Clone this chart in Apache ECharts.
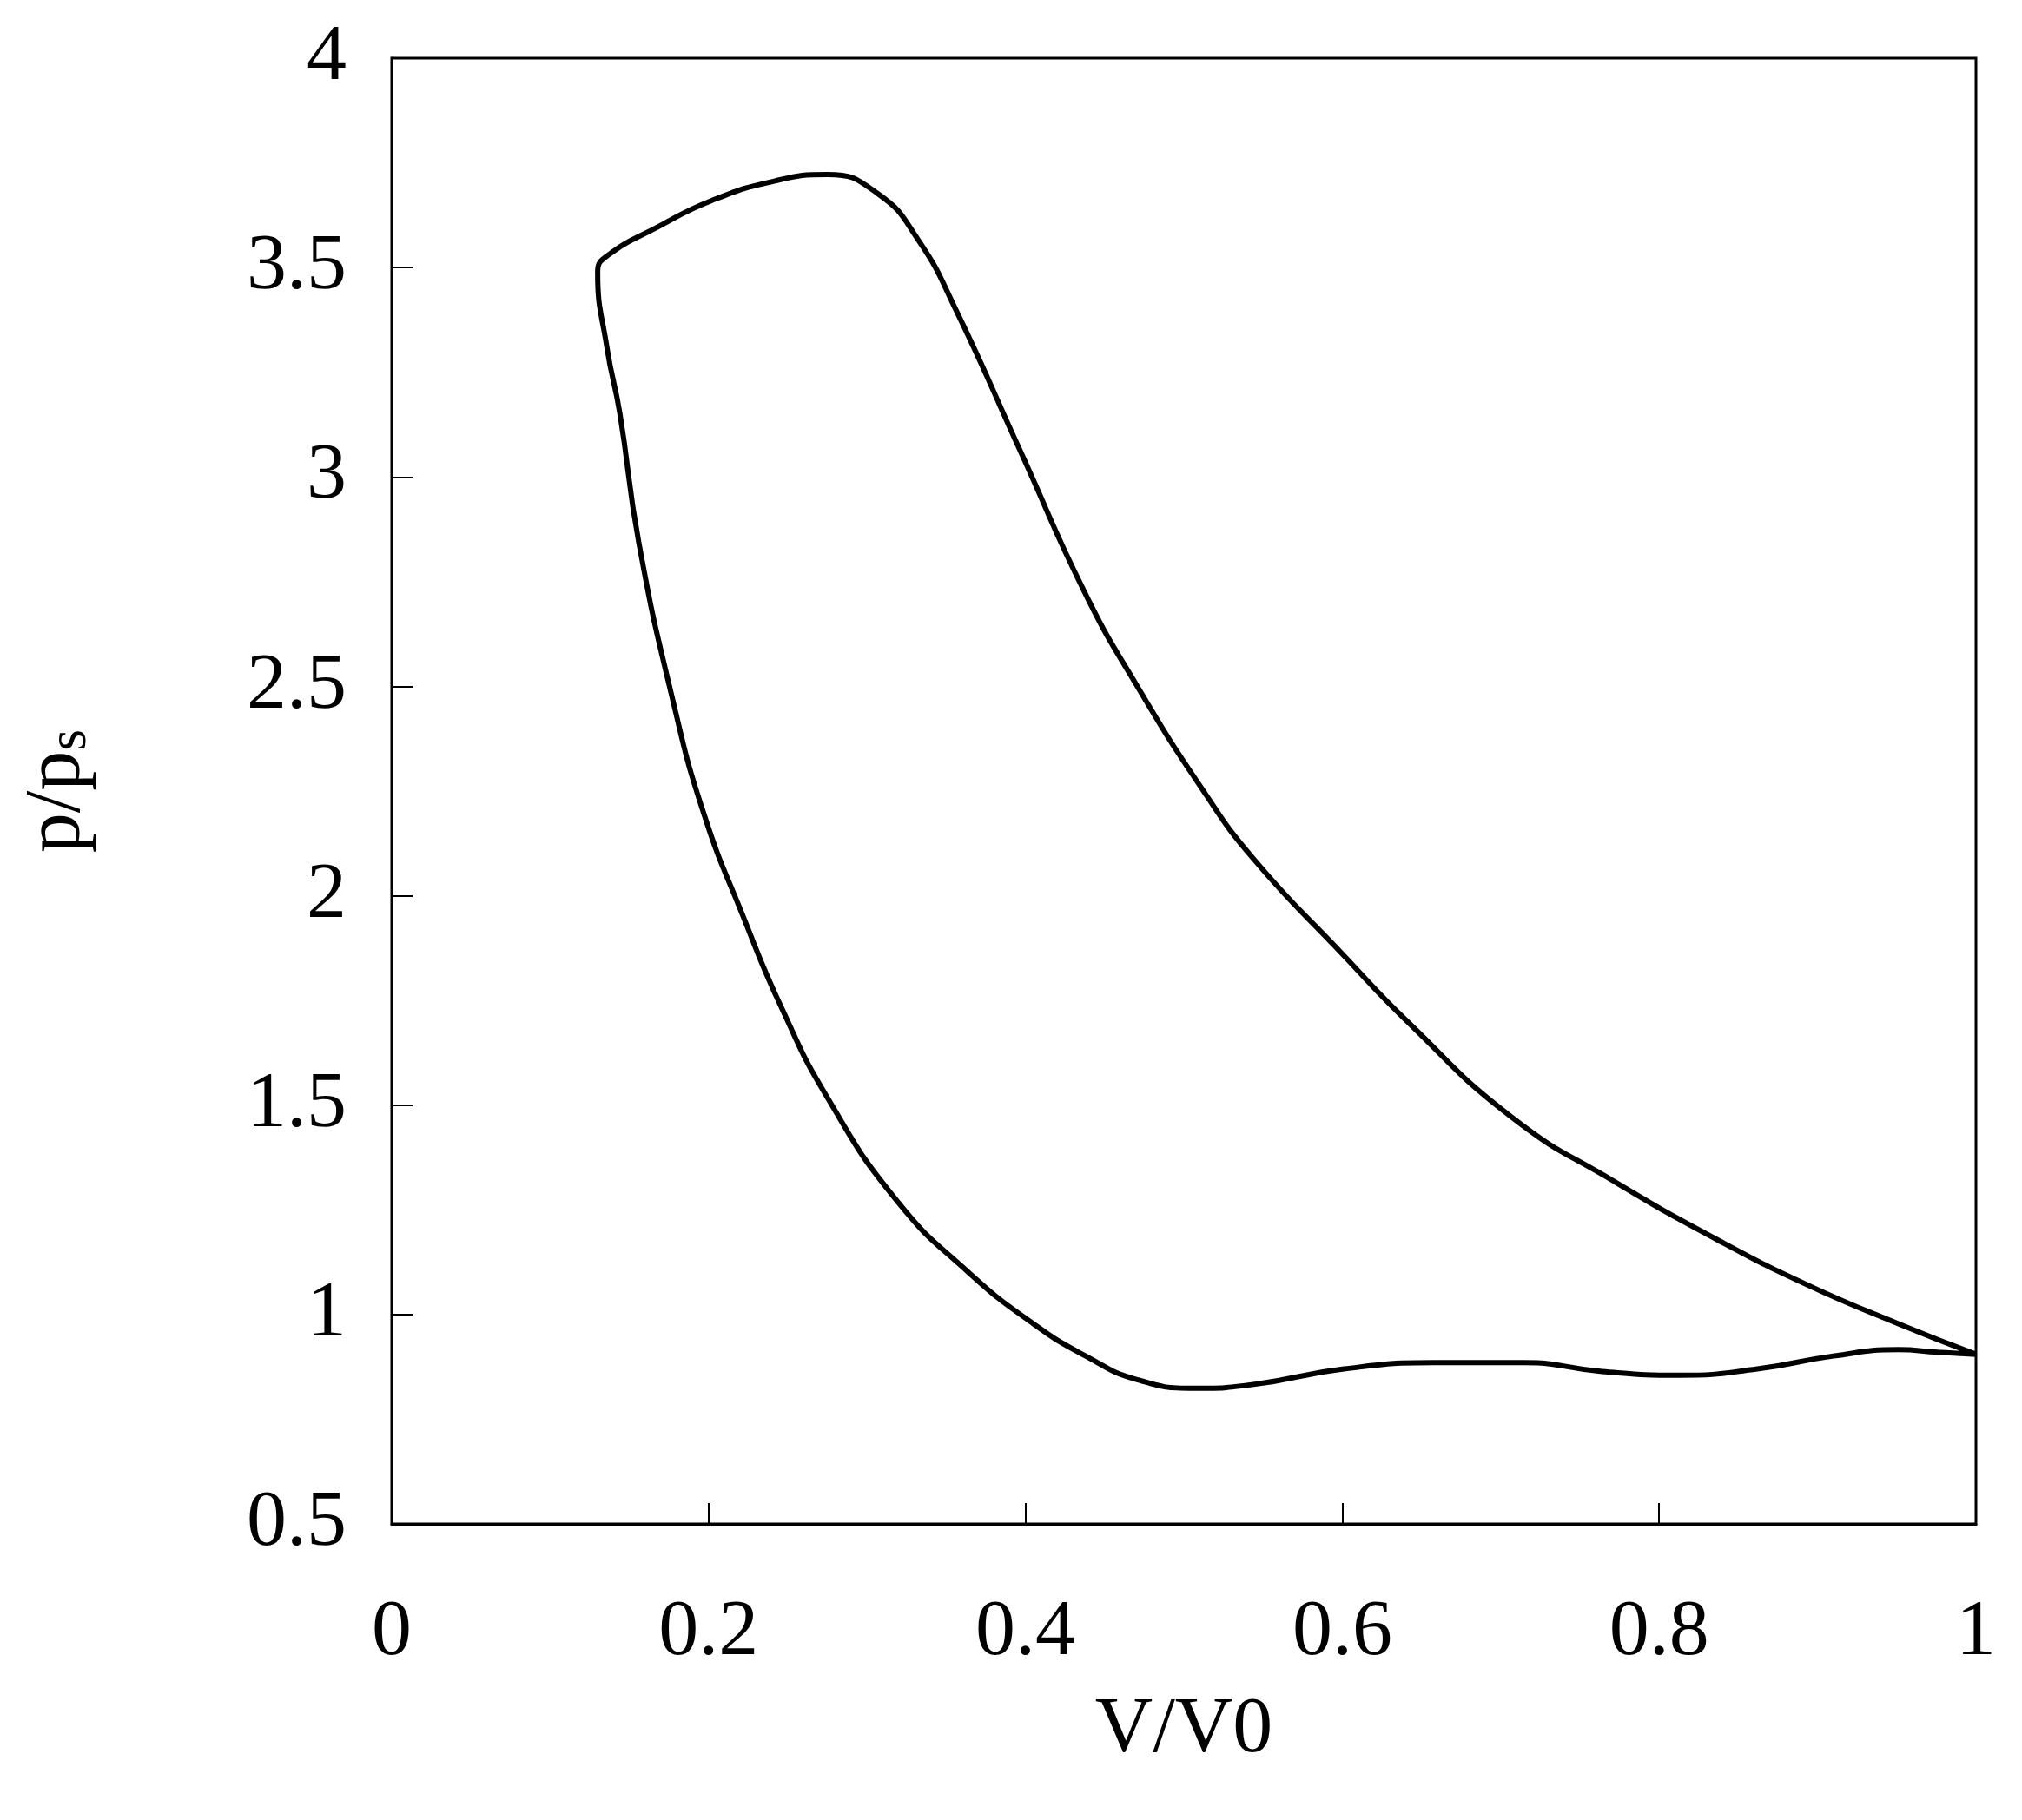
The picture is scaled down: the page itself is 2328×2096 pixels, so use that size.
<!DOCTYPE html>
<html><head><meta charset="utf-8">
<script src="https://cdn.jsdelivr.net/npm/echarts@6/dist/echarts.min.js"></script>
<style>html,body{margin:0;padding:0;background:#fff}#c{width:2328px;height:2096px}</style>
</head><body><div id="c"></div>
<script>
const volume = [1.0,0.951,0.894,0.837,0.772,0.707,0.641,0.601,0.544,0.511,0.470,0.438,0.397,0.356,0.332,0.307,0.275,0.242,0.202,0.169,0.136,0.130,0.136,0.144,0.156,0.177,0.197,0.222,0.246,0.275,0.319,0.364,0.405,0.438,0.470,0.507,0.544,0.601,0.658,0.715,0.764,0.813,0.862,0.910,0.951,0.976,1.0];
const pressure = [0.905,0.978,1.07,1.178,1.317,1.471,1.70,1.857,2.088,2.258,2.504,2.72,3.06,3.40,3.568,3.676,3.722,3.707,3.66,3.599,3.528,3.49,3.306,3.152,2.843,2.474,2.196,1.949,1.733,1.518,1.271,1.101,0.978,0.901,0.845,0.824,0.833,0.870,0.885,0.885,0.864,0.855,0.870,0.901,0.916,0.910,0.905];
const xTicks = [0,0.2,0.4,0.6,0.8,1];
const yTicks = [0.5,1,1.5,2,2.5,3,3.5,4];
const font = '"Liberation Serif", "Times New Roman", Times, serif';
const chart = echarts.init(document.getElementById('c'));
chart.setOption({
  animation:false,
  grid:{left:451,right:53,top:67,bottom:341,show:true,borderColor:'#000',borderWidth:3},
  xAxis:{type:'value',min:0,max:1,interval:0.2,
    name:'V/V0',nameLocation:'middle',nameGap:238,
    nameTextStyle:{fontFamily:font,fontSize:92,color:'#000',verticalAlign:'middle'},
    axisLine:{lineStyle:{color:'#000',width:3}},
    axisTick:{inside:true,length:24,lineStyle:{color:'#000',width:2}},
    splitLine:{show:false},
    axisLabel:{fontFamily:font,fontSize:92,color:'#000',margin:80,formatter:v=>String(v)}},
  yAxis:{type:'value',min:0.5,max:4,interval:0.5,
    name:'{a|p/p}{s|s}',nameLocation:'middle',nameGap:384,nameRotate:90,
    nameTextStyle:{verticalAlign:'middle',rich:{a:{fontFamily:font,fontSize:92,color:'#000'},s:{fontFamily:font,fontSize:64,color:'#000',verticalAlign:'bottom'}}},
    axisLine:{lineStyle:{color:'#000',width:3}},
    axisTick:{inside:true,length:24,lineStyle:{color:'#000',width:2}},
    splitLine:{show:false},
    axisLabel:{fontFamily:font,fontSize:92,color:'#000',margin:52,formatter:v=>String(v)}},
  series:[{type:'line',data:volume.map((v,i)=>[v,pressure[i]]),smooth:0.5,showSymbol:false,
    lineStyle:{color:'#000',width:6}}]
});
</script></body></html>
